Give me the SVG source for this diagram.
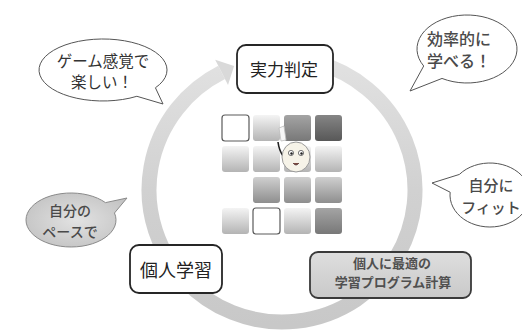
<svg xmlns="http://www.w3.org/2000/svg" width="522" height="332" viewBox="0 0 522 332">
  <defs>
    <linearGradient id="ringGrad" gradientUnits="userSpaceOnUse" x1="0" y1="55" x2="0" y2="325">
      <stop offset="0" stop-color="#e2e2e2"/>
      <stop offset="0.5" stop-color="#d1d1d1"/>
      <stop offset="1" stop-color="#c8c8c8"/>
    </linearGradient>
    <linearGradient id="tileLight" x1="0" y1="0" x2="0" y2="1">
      <stop offset="0" stop-color="#f4f4f4"/>
      <stop offset="1" stop-color="#b4b4b4"/>
    </linearGradient>
    <linearGradient id="tileMid" x1="0" y1="0" x2="0" y2="1">
      <stop offset="0" stop-color="#cfcfcf"/>
      <stop offset="1" stop-color="#8e8e8e"/>
    </linearGradient>
    <linearGradient id="tileMidDark" x1="0" y1="0" x2="0" y2="1">
      <stop offset="0" stop-color="#a4a4a4"/>
      <stop offset="1" stop-color="#787878"/>
    </linearGradient>
    <linearGradient id="tileDark" x1="0" y1="0" x2="0" y2="1">
      <stop offset="0" stop-color="#858585"/>
      <stop offset="1" stop-color="#585858"/>
    </linearGradient>
    <linearGradient id="grayBox" x1="0" y1="0" x2="0" y2="1">
      <stop offset="0" stop-color="#dedede"/>
      <stop offset="1" stop-color="#c9c9c9"/>
    </linearGradient>
    <radialGradient id="grayBubble" cx="0.5" cy="0.5" r="0.6">
      <stop offset="0" stop-color="#e2e2e2"/>
      <stop offset="1" stop-color="#c2c2c2"/>
    </radialGradient>
  </defs>
  <style>
    text { font-family: "Noto Sans CJK JP", "Noto Sans", sans-serif; text-anchor: middle; }
    .box { fill: #ffffff; stroke: #262626; stroke-width: 1.8; }
    .box-gray { fill: url(#grayBox); stroke: #3a3a3a; stroke-width: 1.8; }
    .bubble { fill: #ffffff; stroke: #555555; stroke-width: 1; }
    .bubble-gray { fill: url(#grayBubble); stroke: #8a8a8a; stroke-width: 1; }
    .lbl { font-size: 17px; fill: #222222; }
    .lbl-gray { font-size: 13px; fill: #505050; font-weight: bold; }
    .say { font-size: 15.5px; fill: #333333; }
    .say-bold { font-size: 15px; fill: #4a4a4a; font-weight: 500; }
    .tile { stroke: none; }
    .tile-white { fill: #ffffff; stroke: #5a5a5a; stroke-width: 1.2; }
  </style>

  <rect width="522" height="332" fill="#ffffff"/>

  <!-- cycle arrow: ring running clockwise from the top, head pointing at 実力判定 -->
  <g id="connectors">
    <path d="M 316.42 62.50 A 133 132 0 1 1 221.62 72.39" fill="none" stroke="url(#ringGrad)" stroke-width="15"/>
    <polygon points="215.2,59.7 228.0,85.1 234.1,66.1" fill="#d9d9d9"/>
  </g>

  <!-- tile grid with the character -->
  <g id="tiles">
    <rect class="tile-white" x="222" y="115" width="27" height="26" rx="3"/>
    <rect class="tile" x="253" y="115" width="27" height="26" rx="3" fill="url(#tileLight)"/>
    <rect class="tile" x="284" y="115" width="27" height="26" rx="3" fill="url(#tileMidDark)"/>
    <rect class="tile" x="315" y="115" width="27" height="26" rx="3" fill="url(#tileDark)"/>

    <rect class="tile" x="222" y="146" width="27" height="26" rx="3" fill="url(#tileLight)"/>
    <rect class="tile" x="253" y="146" width="27" height="26" rx="3" fill="url(#tileLight)"/>
    <rect class="tile" x="284" y="146" width="27" height="26" rx="3" fill="url(#tileLight)"/>
    <rect class="tile" x="315" y="146" width="27" height="26" rx="3" fill="url(#tileLight)"/>

    <rect class="tile" x="253" y="177" width="27" height="26" rx="3" fill="url(#tileMid)"/>
    <rect class="tile" x="284" y="177" width="27" height="26" rx="3" fill="url(#tileMid)"/>
    <rect class="tile" x="315" y="177" width="27" height="26" rx="3" fill="url(#tileMid)"/>

    <rect class="tile" x="222" y="208" width="27" height="26" rx="3" fill="url(#tileLight)"/>
    <rect class="tile-white" x="253" y="208" width="27" height="26" rx="3"/>
    <rect class="tile" x="284" y="208" width="27" height="26" rx="3" fill="url(#tileLight)"/>
    <rect class="tile" x="315" y="208" width="27" height="26" rx="3" fill="url(#tileMidDark)"/>
  </g>

  <g id="character">
    <path d="M 279 128 L 284 126 L 286 140 L 281 141 Z" fill="#f6f6f6" stroke="#bbbbbb" stroke-width="0.8"/>
    <path d="M 278 142 Q 279 150 283 156" fill="none" stroke="#222222" stroke-width="1.6"/>
    <ellipse cx="296" cy="157" rx="14" ry="15" fill="#f6f3e8" stroke="#9a9a9a" stroke-width="1"/>
    <circle cx="291" cy="153" r="2.6" fill="#ffffff" stroke="#555555" stroke-width="0.8"/>
    <circle cx="301" cy="153" r="2.6" fill="#ffffff" stroke="#555555" stroke-width="0.8"/>
    <circle cx="291.5" cy="153.5" r="1.2" fill="#222222"/>
    <circle cx="301.5" cy="153.5" r="1.2" fill="#222222"/>
    <path d="M 293 163 Q 296 167 299 163" fill="#7a4a40" stroke="#553333" stroke-width="0.8"/>
  </g>

  <!-- steps of the cycle -->
  <g id="node-assess">
    <rect class="box" x="237" y="45" width="96" height="48" rx="9"/>
    <text class="lbl" x="284" y="76">実力判定</text>
  </g>

  <g id="node-study">
    <rect class="box" x="130" y="245" width="92" height="48" rx="9"/>
    <text class="lbl" x="176" y="277" style="font-size:18px">個人学習</text>
  </g>

  <g id="node-program">
    <rect class="box-gray" x="310" y="252" width="161" height="46" rx="8"/>
    <text class="lbl-gray" x="392" y="268">個人に最適の</text>
    <text class="lbl-gray" x="393" y="287">学習プログラム計算</text>
  </g>

  <!-- speech bubbles -->
  <g id="bubble-fun">
    <path class="bubble" d="M 155.43 87.78 L 163 104 L 136.89 96.29 A 64 31 0 1 1 155.43 87.78 Z"/>
    <text class="say" x="103" y="67">ゲーム感覚で</text>
    <text class="say" x="102" y="88">楽しい！</text>
  </g>

  <g id="bubble-efficient">
    <path class="bubble" d="M 442 78.44 L 410 91 L 423.7 66 A 50 34 0 1 1 442 78.44 Z"/>
    <text class="say-bold" x="427" y="45" style="text-anchor:start;font-size:16px">効率的に</text>
    <text class="say-bold" x="427" y="67" style="text-anchor:start;font-size:16px">学べる！</text>
  </g>

  <g id="bubble-fit">
    <path class="bubble" d="M 450.15 192.21 L 432 183 L 459.36 174.43 A 40 32 0 1 1 450.15 192.21 Z"/>
    <text class="say-bold" x="491" y="191">自分に</text>
    <text class="say-bold" x="491" y="213">フィット</text>
  </g>

  <g id="bubble-pace">
    <path class="bubble-gray" d="M 105.47 202.64 L 127 198 L 114.47 213.01 A 45 27 0 1 1 105.47 202.64 Z"/>
    <text class="say-bold" x="70" y="216" style="font-size:14px">自分の</text>
    <text class="say-bold" x="70" y="237" style="font-size:14px">ペースで</text>
  </g>
</svg>
